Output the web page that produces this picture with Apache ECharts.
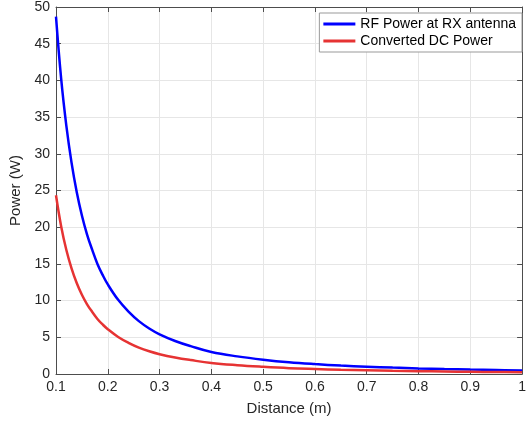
<!DOCTYPE html>
<html>
<head>
<meta charset="utf-8">
<script src="https://cdn.jsdelivr.net/npm/echarts@6/dist/echarts.min.js"></script>
<style>
  html, body { margin: 0; padding: 0; background: #fff; }
  #chart { width: 529px; height: 423px; }
</style>
</head>
<body>
<div id="chart"></div>
<script>
// distance (m)
const distance = [0.10, 0.11, 0.12, 0.13, 0.14, 0.15, 0.16, 0.17, 0.18, 0.19, 0.20,
  0.22, 0.24, 0.26, 0.28, 0.30, 0.33, 0.36, 0.40, 0.45, 0.50, 0.55, 0.60, 0.65,
  0.70, 0.75, 0.80, 0.85, 0.90, 0.95, 1.00];
// RF power at receiving antenna (W)
const rfPower = [48.7, 40.2, 33.8, 28.8, 24.8, 21.6, 19.0, 16.9, 15.0, 13.5, 12.2,
  10.1, 8.5, 7.2, 6.2, 5.4, 4.5, 3.8, 3.0, 2.4, 1.95, 1.6, 1.35, 1.15,
  1.0, 0.87, 0.76, 0.67, 0.6, 0.54, 0.49];
// converted DC power (W)
const dcPower = [24.35, 20.1, 16.9, 14.4, 12.4, 10.8, 9.5, 8.45, 7.5, 6.75, 6.1,
  5.05, 4.25, 3.6, 3.1, 2.7, 2.25, 1.9, 1.5, 1.2, 0.98, 0.8, 0.68, 0.58,
  0.5, 0.43, 0.38, 0.34, 0.3, 0.27, 0.24];
const seriesNames = ["RF Power at RX antenna", "Converted DC Power"];

const chart = echarts.init(document.getElementById("chart"));
const font = "Liberation Sans, Arial, sans-serif";
const axisColor = "#4d4d4d";

const boxAxis = {
  axisLine: { show: true, onZero: false, lineStyle: { color: axisColor, width: 1 } },
  axisTick: { show: true, inside: true, length: 5, lineStyle: { color: axisColor } },
  axisLabel: { show: false },
  splitLine: { show: false }
};

chart.setOption({
  animation: false,
  grid: { left: 55, right: 6, top: 5, bottom: 49 },
  legend: {
    orient: "vertical",
    right: 7,
    top: 13,
    backgroundColor: "#fff",
    borderColor: "#999",
    borderWidth: 1,
    padding: [4, 6, 4, 4],
    itemGap: 3,
    itemWidth: 32,
    itemHeight: 3,
    icon: "rect",
    textStyle: { fontFamily: font, fontSize: 14, color: "#000" },
    data: seriesNames
  },
  xAxis: [{
    type: "value",
    min: 0.1, max: 1, interval: 0.1,
    name: "Distance (m)",
    nameLocation: "middle",
    nameGap: 27,
    nameTextStyle: { fontFamily: font, fontSize: 15, color: "#262626" },
    axisLine: { onZero: false, lineStyle: { color: axisColor } },
    axisTick: { inside: true, length: 5, lineStyle: { color: axisColor } },
    axisLabel: {
      fontFamily: font, fontSize: 14, color: "#262626", margin: 6,
      formatter: v => (Math.abs(v - 1) < 1e-9 ? "1" : v.toFixed(1))
    },
    splitLine: { show: true, lineStyle: { color: "#e6e6e6" } }
  }, Object.assign({ type: "value", position: "top", min: 0.1, max: 1, interval: 0.1 }, boxAxis)],
  yAxis: [{
    type: "value",
    min: 0, max: 50, interval: 5,
    name: "Power (W)",
    nameLocation: "middle",
    nameGap: 33,
    nameTextStyle: { fontFamily: font, fontSize: 15, color: "#262626" },
    axisLine: { show: true, lineStyle: { color: axisColor } },
    axisTick: { show: true, inside: true, length: 5, lineStyle: { color: axisColor } },
    axisLabel: { fontFamily: font, fontSize: 14, color: "#262626", margin: 6 },
    splitLine: { show: true, lineStyle: { color: "#e6e6e6" } }
  }, Object.assign({ type: "value", position: "right", min: 0, max: 50, interval: 5 }, boxAxis)],
  series: [{
    name: seriesNames[0],
    type: "line",
    smooth: 0.4,
    showSymbol: false,
    color: "#0000ff",
    lineStyle: { width: 2.5, color: "#0000ff" },
    data: distance.map((d, i) => [d, rfPower[i]])
  }, {
    name: seriesNames[1],
    type: "line",
    smooth: 0.4,
    showSymbol: false,
    color: "#e63333",
    lineStyle: { width: 2.5, color: "#e63333" },
    data: distance.map((d, i) => [d, dcPower[i]])
  }]
});

window.addEventListener("resize", () => chart.resize());
</script>
</body>
</html>
